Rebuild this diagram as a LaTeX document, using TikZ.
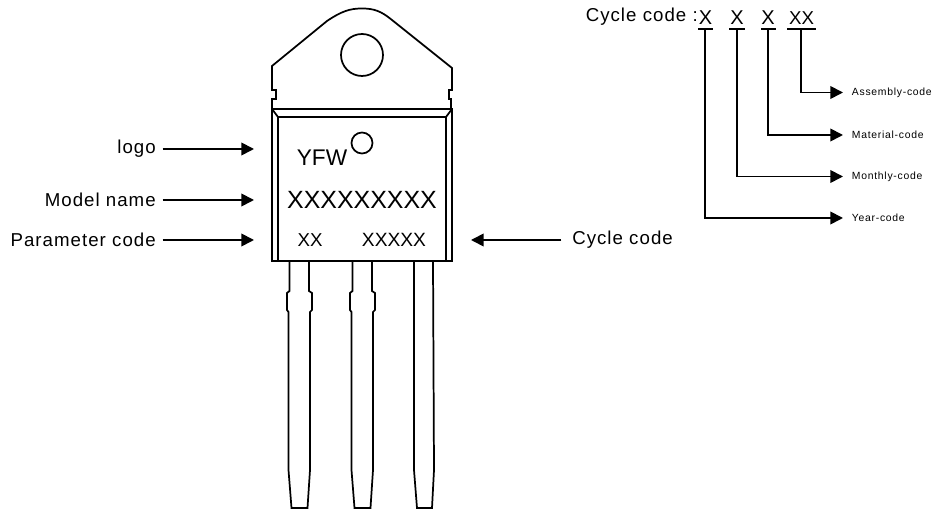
\documentclass[tikz,border=0pt]{standalone}
\usepackage{fontspec}
\setmainfont{Liberation Sans}
\usetikzlibrary{arrows.meta}

\begin{document}
\begin{tikzpicture}[x=0.75pt,y=-0.75pt]

\tikzset{outline/.style = {draw,line width=1.3pt,line join=miter}}
\tikzset{edge/.style = {draw,line width=1.3pt,-{Triangle[length=9.5pt,width=9.5pt]}}}
\tikzset{tick/.style = {draw,line width=1.3pt}}
\tikzset{biglabel/.style = {inner sep=0pt,font=\fontsize{14}{16}\selectfont\addfontfeature{LetterSpace=5.5}}}
\tikzset{minilabel/.style = {anchor=west,inner ysep=0pt,inner xsep=6.5pt,font=\fontsize{7.8}{9}\selectfont\addfontfeature{LetterSpace=7}}}
\tikzset{printed/.style = {inner sep=0pt}}

\useasboundingbox (0,0) rectangle (933,509);
%package
\draw[outline] (272,109) -- (272,99) -- (276,99) -- (276,90) -- (272,90) -- (272,66)
  -- (327,21) .. controls (342,11) and (350,8.5) .. (362,8.5) .. controls (374,8.5) and (381,11) .. (392,20)
  -- (452,68) -- (452,90) -- (449,90) -- (449,99) -- (451,99) -- (451,109);
\node[outline,circle,minimum size=31.5pt,inner sep=0pt] (hole) at (362,55) {};
\draw[outline] (272,109) rectangle (452,261);
\draw[outline] (278,117) rectangle (446,261);
\draw[outline] (272,109) -- (278,117);
\draw[outline] (452,109) -- (446,117);
%leads
\foreach \x in {0,63}{
  \draw[outline] (289.5+\x,261) -- (289.5+\x,291) -- (287+\x,293) -- (287+\x,310) -- (288.5+\x,312)
    -- (288.5+\x,470) -- (291.5+\x,508) -- (307.5+\x,508) -- (310+\x,470) -- (310+\x,312)
    -- (312+\x,310) -- (312+\x,293) -- (309+\x,291) -- (309+\x,261);
}
\draw[outline] (414,261) -- (414,470) -- (417,508) -- (432,508) -- (434,470) -- (433,261);
%marking
\node[printed,font=\fontsize{17}{19}\selectfont] (brand) at (322,158) {YFW};
\node[outline,circle,minimum size=15.75pt,inner sep=0pt] (logodot) at (362,143) {};
\node[printed,font=\fontsize{18.7}{20}\selectfont] (model) at (362,200) {XXXXXXXXX};
\node[printed,font=\fontsize{14}{16}\selectfont] (param) at (310,240) {XX};
\node[printed,font=\fontsize{14.4}{16}\selectfont] (cycle) at (394,240) {XXXXX};
%left labels
\node[biglabel,anchor=east] (logolabel) at (156,149) {logo};
\node[biglabel,anchor=east] (modellabel) at (156,200) {Model name};
\node[biglabel,anchor=east] (paramlabel) at (156,240) {Parameter code};
\node[biglabel,anchor=west] (cyclelabel) at (572,240) {Cycle code};
\coordinate (logoend) at (254,149);
\coordinate (modelend) at (254,200);
\coordinate (paramend) at (254,240);
\coordinate (cycleend) at (471,240);
\draw[edge,shorten <=5pt] (logolabel) -- (logoend);
\draw[edge,shorten <=5pt] (modellabel) -- (modelend);
\draw[edge,shorten <=5pt] (paramlabel) -- (paramend);
\draw[edge,shorten <=8pt] (cyclelabel) -- (cycleend);
%cycle code
\node[biglabel,anchor=east] (cycletitle) at (698,17) {Cycle code :};
\node[printed,font=\fontsize{15}{17}\selectfont] (xa) at (705.5,18) {X};
\node[printed,font=\fontsize{15}{17}\selectfont] (xb) at (737,18) {X};
\node[printed,font=\fontsize{15}{17}\selectfont] (xc) at (768,18) {X};
\node[printed,font=\fontsize{14}{16}\selectfont] (xd) at (801.5,18) {XX};
\coordinate (ua) at (705,29);
\coordinate (ub) at (737,29);
\coordinate (uc) at (768,29);
\coordinate (ud) at (801,29);
\draw[tick] (698,29) -- (713,29);
\draw[tick] (729,29) -- (745,29);
\draw[tick] (761,29) -- (776,29);
\draw[tick] (787,29) -- (816,29);
\node[minilabel] (assembly) at (843,92.5) {Assembly-code};
\node[minilabel] (material) at (843,135) {Material-code};
\node[minilabel] (monthly) at (843,176.5) {Monthly-code};
\node[minilabel] (year) at (843,218) {Year-code};
\draw[edge] (ud) |- (assembly);
\draw[edge] (uc) |- (material);
\draw[edge] (ub) |- (monthly);
\draw[edge] (ua) |- (year);

\end{tikzpicture}
\end{document}
